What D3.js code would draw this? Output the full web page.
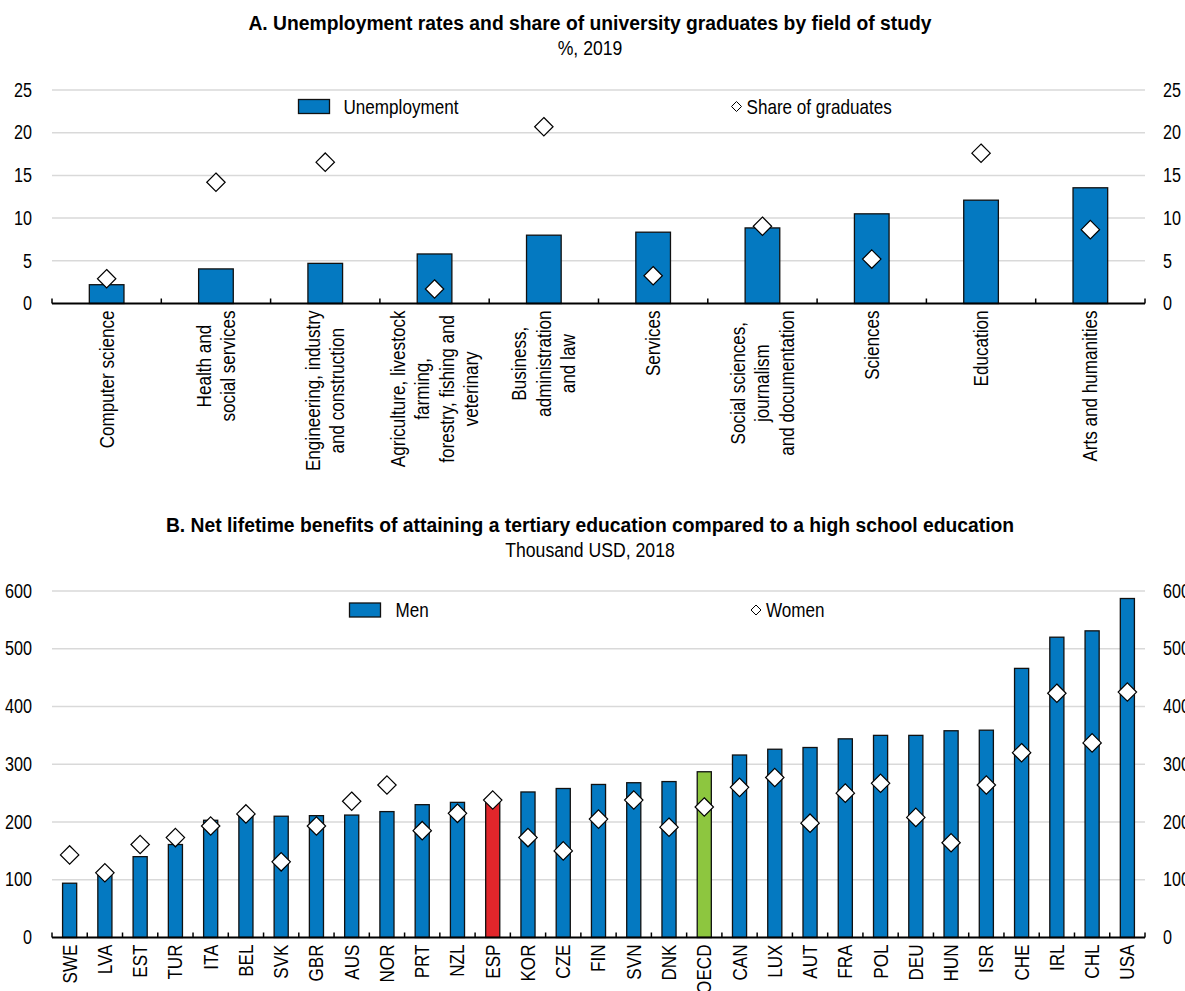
<!DOCTYPE html>
<html>
<head>
<meta charset="utf-8">
<script src="https://cdn.jsdelivr.net/npm/d3@7"></script>
<style>
  body { margin: 0; background: #fff; }
  svg { display: block; }
</style>
</head>
<body>
<svg id="chart" width="1185" height="991"></svg>
<script>
// ---- Panel A: fields of study ----
const fields = [
  "Computer science",
  "Health and\nsocial services",
  "Engineering, industry\nand construction",
  "Agriculture, livestock\nfarming,\nforestry, fishing and\nveterinary",
  "Business,\nadministration\nand law",
  "Services",
  "Social sciences,\njournalism\nand documentation",
  "Sciences",
  "Education",
  "Arts and humanities"
];
const unemployment = [2.2, 4.05, 4.7, 5.8, 8.0, 8.35, 8.85, 10.5, 12.1, 13.55];
const shareGraduates = [2.9, 14.2, 16.55, 1.7, 20.7, 3.25, 9.05, 5.2, 17.6, 8.65];
const ticksA = [0, 5, 10, 15, 20, 25];

// ---- Panel B: countries ----
const countries = ["SWE","LVA","EST","TUR","ITA","BEL","SVK","GBR","AUS","NOR","PRT","NZL","ESP","KOR","CZE",
  "FIN","SVN","DNK","OECD","CAN","LUX","AUT","FRA","POL","DEU","HUN","ISR","CHE","IRL","CHL","USA"];
const men = [94, 108, 140, 161, 203, 211, 210, 211, 212, 218, 230, 234, 236, 252, 258,
  265, 268, 270, 287, 316, 326, 329, 344, 350, 350, 358, 359, 466, 520, 531, 587];
const women = [143, 112, 161, 173, 193, 214, 131, 193, 236, 264, 185, 215, 238, 173, 150,
  205, 238, 191, 226, 260, 277, 198, 250, 267, 208, 164, 264, 320, 423, 337, 425];
const ticksB = [0, 100, 200, 300, 400, 500, 600];

// Narrow-looking type: a regular sans squeezed horizontally
const FONT = "'Liberation Sans', Arial, sans-serif";
const SQ = 0.855;        // horizontal squeeze for regular text
const SQ_TITLE = 0.92;   // horizontal squeeze for bold titles
const BLUE = "#0479c1", RED = "#e2262b", GREEN = "#8dc63f", GRID = "#d9d9d9", INK = "#000";

const svg = d3.select("#chart");
const left = 52, right = 1145;

function label(parent, x, y, str, o) {
  const g = parent.append("g").attr("transform", `translate(${x},${y}) scale(${o.sx},1)`);
  return g.append("text")
    .attr("font-family", FONT).attr("font-size", o.size)
    .attr("font-weight", o.bold ? "bold" : "normal")
    .attr("text-anchor", o.anchor || "start")
    .attr("dy", o.dy || null)
    .attr("fill", INK).text(str);
}

function diamond(g, cx, cy, r, sw) {
  g.append("path")
    .attr("d", `M${cx},${cy - r}L${cx + r},${cy}L${cx},${cy + r}L${cx - r},${cy}Z`)
    .attr("fill", "#fff").attr("stroke", INK).attr("stroke-width", sw);
}

function panel(cfg) {
  const g = svg.append("g");
  const x = d3.scaleBand().domain(cfg.cats).range([left, right]).paddingInner(0).paddingOuter(0);
  const y = d3.scaleLinear().domain([0, cfg.max]).range([cfg.y0, cfg.yTop]);

  // titles
  label(g, 590, cfg.titleY, cfg.title, { sx: SQ_TITLE, size: 21, bold: true, anchor: "middle" });
  label(g, 590, cfg.titleY + 25, cfg.subtitle, { sx: 0.84, size: 21, anchor: "middle" });

  // gridlines
  g.append("g").selectAll("line").data(cfg.ticks.filter(t => t > 0)).join("line")
    .attr("x1", left).attr("x2", right)
    .attr("y1", d => y(d)).attr("y2", d => y(d))
    .attr("stroke", GRID).attr("stroke-width", 1.5);

  // value axes on both sides
  const axL = g.append("g").attr("transform", `translate(${left - 20},0)`)
    .call(d3.axisLeft(y).tickValues(cfg.ticks).tickSize(0).tickPadding(0));
  const axR = g.append("g").attr("transform", `translate(${right + 18},0)`)
    .call(d3.axisRight(y).tickValues(cfg.ticks).tickSize(0).tickPadding(0));
  [axL, axR].forEach(a => {
    a.select(".domain").remove();
    a.selectAll("text").attr("x", 0).attr("font-family", FONT).attr("font-size", 19.5)
      .attr("fill", INK).attr("transform", "scale(0.83,1)");
  });

  // bars
  const bw = x.bandwidth() * cfg.barRatio;
  g.append("g").selectAll("rect").data(cfg.cats).join("rect")
    .attr("x", d => x(d) + (x.bandwidth() - bw) / 2)
    .attr("y", (d, i) => y(cfg.bars[i]))
    .attr("width", bw)
    .attr("height", (d, i) => y(0) - y(cfg.bars[i]))
    .attr("fill", d => cfg.color(d))
    .attr("stroke", "#111").attr("stroke-width", 1.3);

  // category axis with ticks between categories
  const ax = g.append("g");
  ax.append("line").attr("x1", left).attr("x2", right).attr("y1", y(0)).attr("y2", y(0))
    .attr("stroke", INK).attr("stroke-width", 2);
  const bounds = cfg.cats.map(c => x(c)).concat([right]);
  ax.selectAll("line.tk").data(bounds).join("line").attr("class", "tk")
    .attr("x1", d => d).attr("x2", d => d).attr("y1", y(0)).attr("y2", y(0) - 5)
    .attr("stroke", INK).attr("stroke-width", 1.5);

  // points
  const pts = g.append("g");
  cfg.cats.forEach((c, i) => diamond(pts, x(c) + x.bandwidth() / 2, y(cfg.points[i]), 9.2, 1.2));

  // category labels, rotated, lines centred on each other
  const lab = g.append("g");
  cfg.cats.forEach(c => {
    const lines = c.split("\n");
    const cx = x(c) + x.bandwidth() / 2;
    const t = lab.append("g")
      .attr("transform", `translate(${cx},${y(0) + cfg.labelGap}) rotate(-90) scale(${SQ},1)`);
    const texts = lines.map((ln, k) => t.append("text")
      .attr("font-family", FONT).attr("font-size", 20).attr("fill", INK)
      .attr("text-anchor", "middle").attr("dominant-baseline", "central")
      .attr("y", (k - (lines.length - 1) / 2) * cfg.lineH)
      .text(ln));
    const maxW = d3.max(texts, tx => tx.node().getComputedTextLength());
    texts.forEach(tx => tx.attr("x", -maxW / 2));
  });

  // legend
  const lg = g.append("g");
  lg.append("rect").attr("x", cfg.leg.rx).attr("y", cfg.leg.ry).attr("width", 31).attr("height", 14)
    .attr("fill", BLUE).attr("stroke", "#111").attr("stroke-width", 1.3);
  label(lg, cfg.leg.tx, cfg.leg.ry + 7, cfg.leg.barName, { sx: SQ, size: 20, dy: "0.35em" });
  diamond(lg, cfg.leg.dx, cfg.leg.ry + 7, 5, 1);
  label(lg, cfg.leg.dx + 10, cfg.leg.ry + 7, cfg.leg.ptName, { sx: SQ, size: 20, dy: "0.35em" });
}

panel({
  cats: fields, bars: unemployment, points: shareGraduates, ticks: ticksA, max: 25,
  y0: 303.5, yTop: 90, barRatio: 0.317, color: () => BLUE,
  title: "A. Unemployment rates and share of university graduates by field of study",
  subtitle: "%, 2019", titleY: 30,
  labelGap: 7, lineH: 24.5,
  leg: { rx: 298.5, ry: 99.5, tx: 343.5, barName: "Unemployment", dx: 736.5, ptName: "Share of graduates" }
});

panel({
  cats: countries, bars: men, points: women, ticks: ticksB, max: 600,
  y0: 937.5, yTop: 591, barRatio: 0.4,
  color: d => d === "ESP" ? RED : d === "OECD" ? GREEN : BLUE,
  title: "B. Net lifetime benefits of attaining a tertiary education compared to a high school education",
  subtitle: "Thousand USD, 2018", titleY: 532,
  labelGap: 7, lineH: 24.5,
  leg: { rx: 349.5, ry: 603, tx: 395.5, barName: "Men", dx: 756, ptName: "Women" }
});
</script>
</body>
</html>
